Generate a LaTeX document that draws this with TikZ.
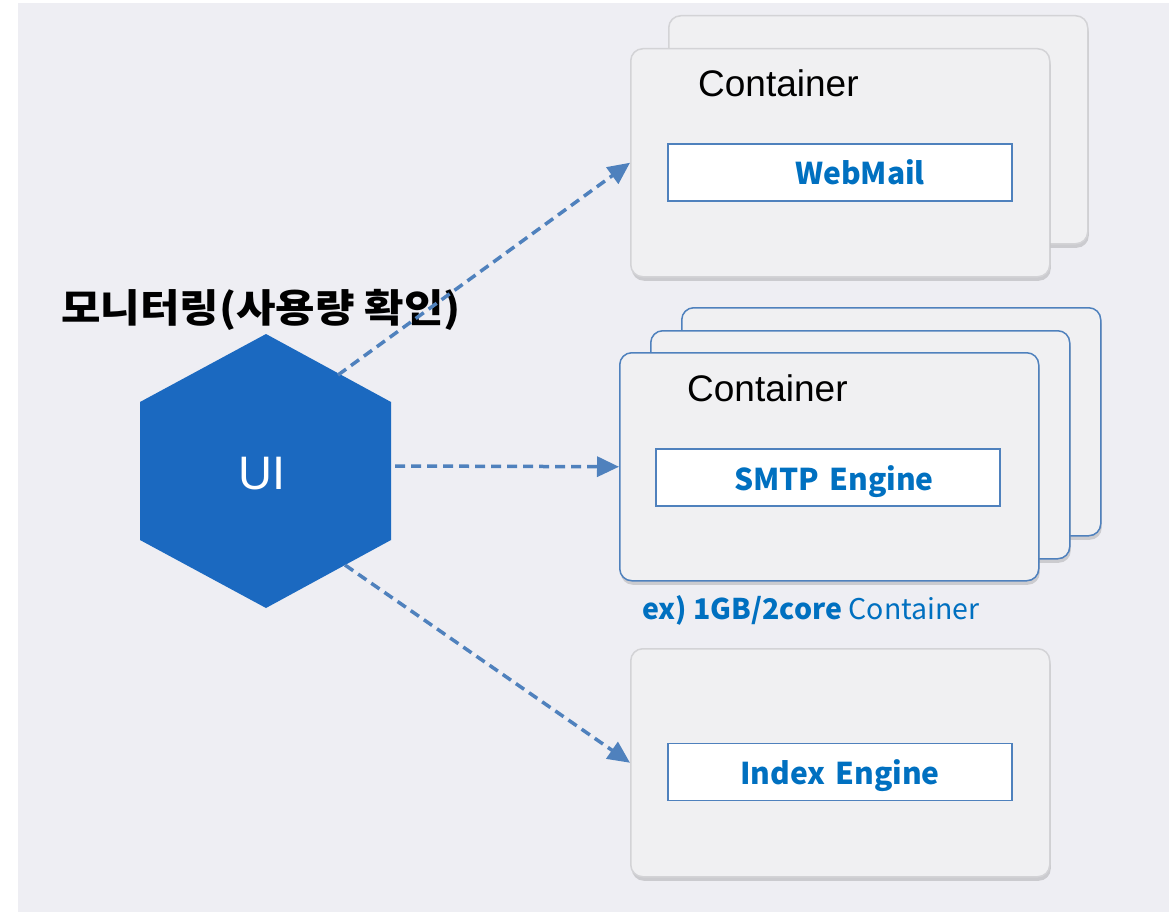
\documentclass[tikz,border=0pt]{standalone}
\usepackage{fontspec}
\setmainfont{Liberation Sans}
\newfontfamily\kofont{Noto Sans CJK KR}
\newfontfamily\kowide{Noto Sans CJK KR}[FakeStretch=1.1]
\usetikzlibrary{positioning,shadows,arrows.meta}

\definecolor{bgcol}{HTML}{EEEEF3}
\definecolor{cardfill}{HTML}{F0F0F2}
\definecolor{cardline}{HTML}{D3D3D6}
\definecolor{boxline}{HTML}{4F81BD}
\definecolor{hexblue}{HTML}{1B69C0}
\definecolor{txtblue}{HTML}{0070C0}

\tikzset{
	card/.style={draw=cardline, line width=1.5pt, fill=cardfill, rounded corners=12pt,
		minimum width=419pt, minimum height=228pt, anchor=north west, inner sep=0pt,
		drop shadow={shadow xshift=1pt, shadow yshift=-4pt, opacity=.35, fill=black!45}},
	bluecard/.style={card, draw=boxline},
	engine/.style={draw=boxline, line width=1.5pt, fill=white, minimum width=344pt,
		minimum height=57pt, inner sep=0pt, text=txtblue, text height=27pt, text depth=2pt,
		font=\kofont\bfseries\fontsize{30}{32}\selectfont},
	ctitle/.style={anchor=base west, inner sep=0pt, font=\fontsize{37}{40}\selectfont},
	link/.style={draw=boxline, line width=3.5pt, dash pattern=on 10pt off 6pt,
		-{Triangle[length=22pt,width=20pt]}}
}

\begin{document}
\begin{tikzpicture}[x=1pt, y=-1pt]
	\useasboundingbox (0,0) rectangle (1169,912);
	\fill[bgcol] (18,3) rectangle (1169,912);

	% webmail containers
	\node[card] (web2) at (668,15) {};
	\node[card] (web1) at (630,48) {};
	\node[ctitle] (webtitle) at (698,97) {Container};
	\node[engine] (webmail) at (840,172.5) {\hspace*{40pt}WebMail};

	% smtp containers
	\node[bluecard] (smtp3) at (681,307) {};
	\node[bluecard] (smtp2) at (650,330) {};
	\node[bluecard] (smtp1) at (619,352) {};
	\node[ctitle] (smtptitle) at (687,401) {Container};
	\node[engine] (smtp) at (828,477.5) {\hspace*{12pt}SMTP\,\,Engine};
	\node[anchor=base west, inner sep=0pt, text=txtblue, font=\kofont\fontsize{28.5}{30}\selectfont]
		(spec) at (642,619) {\bfseries ex) 1GB/2core\mdseries{} Container};

	% index container
	\node[card] (idx) at (630,648) {};
	\node[engine] (index) at (840,772) {Index\,\,Engine};

	% UI
	\fill[hexblue] (266,334) -- (391,402) -- (391,540) -- (266,608) -- (140,540) -- (140,402) -- cycle;
	\node[text=white, font=\fontsize{47}{48}\selectfont] (ui) at (262,474) {UI};
	\node[font=\kowide\bfseries\fontsize{39}{42}\selectfont] (mon) at (261,310) {모니터링(사용량 확인)};
	\coordinate (uiNE) at (338,375);
	\coordinate (uiE) at (395,466);
	\coordinate (uiSE) at (345,565);

	\draw[link] (uiNE) -- (web1.west);
	\draw[link] (uiE) -- (smtp1.west);
	\draw[link] (uiSE) -- (idx.west);
\end{tikzpicture}
\end{document}
